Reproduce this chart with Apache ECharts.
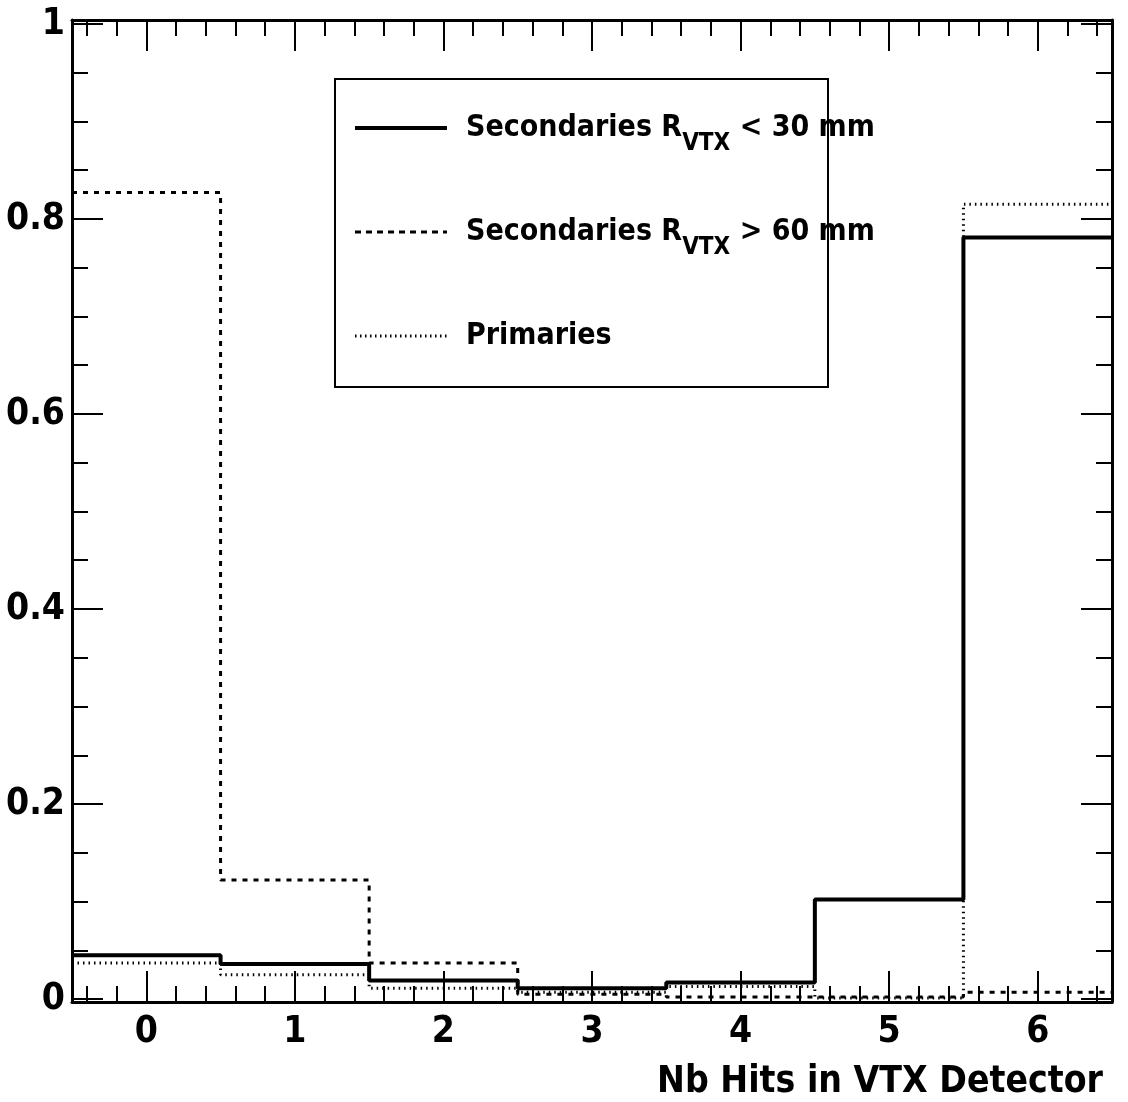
<!DOCTYPE html>
<html>
<head>
<meta charset="utf-8">
<script src="https://cdn.jsdelivr.net/npm/echarts@6/dist/echarts.min.js"></script>
<style>
  html, body { margin: 0; padding: 0; background: #fff; }
  #chart { width: 1128px; height: 1102px; }
</style>
</head>
<body>
<div id="chart"></div>
<script>
// Bin layout: integer hit counts, bins of width 1 centred on 0..6
const binCenters = [0, 1, 2, 3, 4, 5, 6];
const binWidth = 1;

// Normalised fractions per bin
const secondariesInner = [0.045, 0.036, 0.019, 0.011, 0.017, 0.102, 0.781]; // R_VTX < 30 mm
const secondariesOuter = [0.827, 0.122, 0.037, 0.005, 0.002, 0.002, 0.007]; // R_VTX > 60 mm
const primaries        = [0.037, 0.025, 0.011, 0.007, 0.013, 0.001, 0.815];

// Tick values
const xMajorTicks = [0, 1, 2, 3, 4, 5, 6];
const xMinorTicks = [-0.4, -0.2, 0.2, 0.4, 0.6, 0.8, 1.2, 1.4, 1.6, 1.8, 2.2, 2.4, 2.6, 2.8,
                     3.2, 3.4, 3.6, 3.8, 4.2, 4.4, 4.6, 4.8, 5.2, 5.4, 5.6, 5.8, 6.2, 6.4];
const yMajorTicks = [0, 0.2, 0.4, 0.6, 0.8, 1];
const yMinorTicks = [0.05, 0.1, 0.15, 0.25, 0.3, 0.35, 0.45, 0.5, 0.55, 0.65, 0.7, 0.75,
                     0.85, 0.9, 0.95];

const seriesNames = [
  'Secondaries R_VTX < 30 mm',
  'Secondaries R_VTX > 60 mm',
  'Primaries'
];

// Turn bin contents into step outline points (left edge of every bin + final right edge)
function histOutline(values) {
  const pts = values.map((v, i) => [binCenters[i] - binWidth / 2, v]);
  const last = values.length - 1;
  pts.push([binCenters[last] + binWidth / 2, values[last]]);
  return pts;
}

const FONT = '"DejaVu Sans Condensed", "Liberation Sans Narrow", "Liberation Sans", sans-serif';
const X_MIN = -0.5, X_MAX = 6.5;
const Y_MIN = -0.003, Y_MAX = 1.004;

function xAxisDef(position, ticks, len, withLabels, withLine) {
  return {
    type: 'value', position: position, min: X_MIN, max: X_MAX,
    axisLine: { show: withLine, onZero: false, lineStyle: { color: '#000', width: 3 } },
    splitLine: { show: false },
    axisTick: { show: true, inside: true, length: len, customValues: ticks,
                lineStyle: { color: '#000', width: 2 } },
    axisLabel: withLabels ? {
      show: true, customValues: xMajorTicks, margin: 12,
      color: '#000', fontFamily: FONT, fontWeight: 'bold', fontSize: 37
    } : { show: false }
  };
}
function yAxisDef(position, ticks, len, withLabels, withLine) {
  return {
    type: 'value', position: position, min: Y_MIN, max: Y_MAX,
    axisLine: { show: withLine, onZero: false, lineStyle: { color: '#000', width: 3 } },
    splitLine: { show: false },
    axisTick: { show: true, inside: true, length: len, customValues: ticks,
                lineStyle: { color: '#000', width: 2 } },
    axisLabel: withLabels ? {
      show: true, customValues: yMajorTicks, margin: 7,
      color: '#000', fontFamily: FONT, fontWeight: 'bold', fontSize: 37,
      formatter: v => String(+v.toFixed(2))
    } : { show: false }
  };
}

const bottomAxis = xAxisDef('bottom', xMajorTicks, 31, true, true);
bottomAxis.name = 'Nb Hits in VTX Detector';
bottomAxis.nameLocation = 'end';
bottomAxis.nameGap = -9;
bottomAxis.nameTextStyle = {
  color: '#000', fontFamily: FONT, fontWeight: 'bold', fontSize: 37,
  align: 'right', verticalAlign: 'top', padding: [62, 0, 0, 0]
};

const legendRich = {
  sp:  { width: 14, fontSize: 10, lineHeight: 56 },
  t:   { color: '#000', fontFamily: FONT, fontWeight: 'bold', fontSize: 30,
         lineHeight: 56, verticalAlign: 'middle' },
  sub: { color: '#000', fontFamily: FONT, fontWeight: 'bold', fontSize: 24,
         lineHeight: 24, verticalAlign: 'bottom' }
};

function legendLabel(name) {
  const m = name.split('R_VTX');
  if (m.length === 2) {
    return '{sp| }{t|' + m[0] + 'R}{sub|VTX}{t|' + m[1] + '}';
  }
  return '{sp| }{t|' + name + '}';
}

const chart = echarts.init(document.getElementById('chart'), null, { renderer: 'canvas' });

chart.setOption({
  animation: false,
  backgroundColor: '#fff',
  grid: { left: 72, right: 16, top: 20, bottom: 100, containLabel: false, outerBoundsMode: 'none' },
  xAxis: [
    bottomAxis,
    xAxisDef('bottom', xMinorTicks, 16, false, false),
    xAxisDef('top', xMajorTicks, 31, false, true),
    xAxisDef('top', xMinorTicks, 16, false, false)
  ],
  yAxis: [
    yAxisDef('left', yMajorTicks, 31, true, true),
    yAxisDef('left', yMinorTicks, 16, false, false),
    yAxisDef('right', yMajorTicks, 31, false, true),
    yAxisDef('right', yMinorTicks, 16, false, false)
  ],
  legend: {
    orient: 'vertical',
    left: 353, top: 113, padding: 0,
    itemWidth: 92, itemHeight: 12, itemGap: 61,
    selectedMode: false,
    formatter: legendLabel,
    textStyle: { rich: legendRich },
    data: [
      { name: seriesNames[0], itemStyle: { opacity: 0 },
        lineStyle: { color: '#000', width: 4, type: 'solid' } },
      { name: seriesNames[1], itemStyle: { opacity: 0 },
        lineStyle: { color: '#000', width: 3, type: [6, 5] } },
      { name: seriesNames[2], itemStyle: { opacity: 0 },
        lineStyle: { color: '#000', width: 3, type: [1.5, 3.5] } }
    ]
  },
  graphic: [
    { type: 'rect', shape: { x: 335, y: 79, width: 493, height: 308 },
      style: { fill: 'none', stroke: '#000', lineWidth: 2 }, z: 10, silent: true }
  ],
  series: [
    {
      name: seriesNames[0], type: 'line', step: 'end', symbol: 'none',
      xAxisIndex: 0, yAxisIndex: 0,
      lineStyle: { color: '#000', width: 4, type: 'solid' },
      itemStyle: { color: '#000' },
      data: histOutline(secondariesInner)
    },
    {
      name: seriesNames[1], type: 'line', step: 'end', symbol: 'none',
      xAxisIndex: 0, yAxisIndex: 0,
      lineStyle: { color: '#000', width: 3, type: [5, 6] },
      itemStyle: { color: '#000' },
      data: histOutline(secondariesOuter)
    },
    {
      name: seriesNames[2], type: 'line', step: 'end', symbol: 'none',
      xAxisIndex: 0, yAxisIndex: 0,
      lineStyle: { color: '#000', width: 3, type: [1.5, 4] },
      itemStyle: { color: '#000' },
      data: histOutline(primaries)
    }
  ]
});
</script>
</body>
</html>
